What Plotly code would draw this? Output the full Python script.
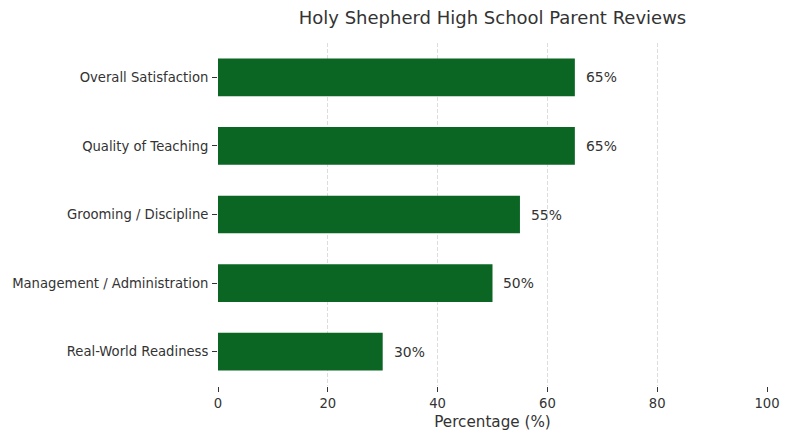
import plotly.graph_objects as go

# Data
categories = ["Overall Satisfaction", "Quality of Teaching", "Grooming / Discipline",
              "Management / Administration", "Real-World Readiness"]
percentages = [65, 65, 55, 50, 30]
x_ticks = [0, 20, 40, 60, 80, 100]

bar_color = "#0b6623"
text_color = "#333333"
font_family = "DejaVu Sans, sans-serif"

fig = go.Figure()
fig.add_trace(go.Bar(
    x=percentages, y=categories, orientation="h",
    marker=dict(color=bar_color, line=dict(width=0)),
    hoverinfo="x+y", showlegend=False,
))

# value labels to the right of each bar
for cat, val in zip(categories, percentages):
    fig.add_annotation(x=val + 2, y=cat, text=f"{val}%", showarrow=False,
                       xanchor="left", yanchor="middle", xshift=-2,
                       font=dict(size=13.9, color=text_color, family=font_family))

# page body has an 8px margin, so the figure is a bit smaller than the window
fig.update_layout(
    width=782, height=432,
    margin=dict(l=210, r=23, t=35, b=54),
    paper_bgcolor="white", plot_bgcolor="white",
    bargap=0.45,
    title=dict(text="Holy Shepherd High School Parent Reviews", x=0.5, xref="paper",
               y=0.977, yanchor="middle",
               font=dict(size=18, color=text_color, family=font_family)),
    font=dict(family=font_family, color=text_color, size=13.2),
)
fig.update_xaxes(
    range=[0, 100], tickvals=x_ticks, showline=False, zeroline=False,
    automargin=False,
    showgrid=True, gridcolor="#dddddd", griddash="4px,2px", gridwidth=1,
    ticks="outside", ticklen=5, tickcolor=text_color,
    title=dict(text="Percentage (%)", font=dict(size=15.2, color=text_color), standoff=6),
    tickfont=dict(size=13.2, color=text_color),
)
fig.update_yaxes(
    categoryorder="array", categoryarray=categories,
    range=[4.5025, -0.5025], showline=False, zeroline=False, showgrid=False,
    automargin=False,
    ticks="outside", ticklen=5, tickcolor=text_color, ticklabelstandoff=1,
    tickfont=dict(size=13.2, color=text_color),
)

fig.write_html("out.html")
